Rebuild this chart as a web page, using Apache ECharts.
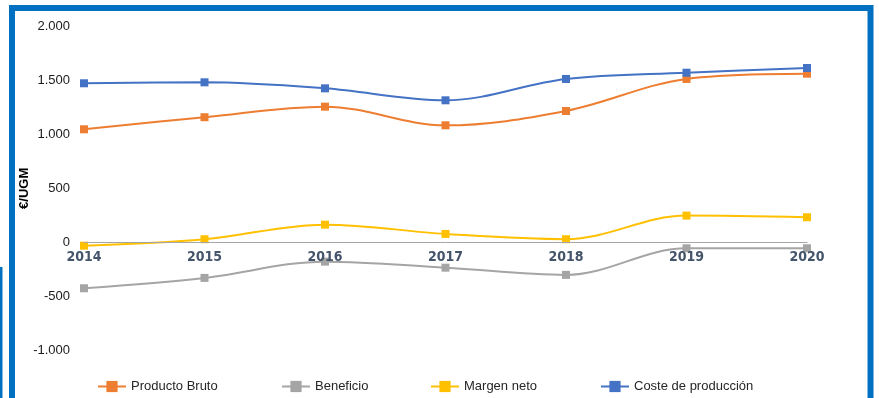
<!DOCTYPE html>
<html>
<head>
<meta charset="utf-8">
<script src="https://cdn.jsdelivr.net/npm/echarts@6/dist/echarts.min.js"></script>
<style>
  html, body { margin: 0; padding: 0; background: #fff; }
  #chart { width: 879px; height: 398px; }
</style>
</head>
<body>
<div id="chart"></div>
<script>
// Years on the horizontal axis
const years = ['2014', '2015', '2016', '2017', '2018', '2019', '2020'];

// Series values in €/UGM
const productoBruto = [1048, 1160, 1258, 1085, 1218, 1515, 1564];
const beneficio = [-427, -331, -180, -236, -303, -56, -56];
const margenNeto = [-32, 28, 163, 77, 28, 247, 232];
const costeProduccion = [1475, 1484, 1428, 1317, 1515, 1573, 1617];

const seriesNames = ['Producto Bruto', 'Beneficio', 'Margen neto', 'Coste de producción'];
const seriesColors = ['#ED7D31', '#A5A5A5', '#FFC000', '#4472C4'];
const seriesData = [productoBruto, beneficio, margenNeto, costeProduccion];

// Value axis range
const yMin = -1000;
const yMax = 2000;
const yStep = 500;

// Spanish number format: thousands separated with a dot
function fmt(v) {
  const s = Math.abs(v).toString().replace(/\B(?=(\d{3})+(?!\d))/g, '.');
  return (v < 0 ? '-' : '') + s;
}

const gridTop = 26.7;
const gridBottom = 48;
const chartHeight = 398;

// Distance (px) from the bottom of the plot to the zero line, so the
// category axis with its labels sits on y = 0
const plotHeight = chartHeight - gridTop - gridBottom;
const zeroOffset = plotHeight * (0 - yMin) / (yMax - yMin);

const chart = echarts.init(document.getElementById('chart'), null, { renderer: 'canvas' });

const legendLefts = [92, 276, 425, 595];

const option = {
  animation: false,
  backgroundColor: '#ffffff',
  grid: { left: 84, right: 72, top: gridTop, bottom: gridBottom },
  legend: seriesNames.map((name, i) => ({
    data: [name],
    left: legendLefts[i],
    top: 375,
    itemWidth: 28,
    itemHeight: 14,
    itemGap: 6,
    textStyle: { fontFamily: 'Liberation Sans', fontSize: 13, color: '#262626' }
  })),
  xAxis: {
    type: 'category',
    data: years,
    boundaryGap: false,
    offset: -zeroOffset,
    z: 10,
    axisLine: { onZero: false, lineStyle: { color: '#A6A6A6', width: 1 } },
    axisTick: { show: false },
    axisLabel: {
      margin: 8,
      fontFamily: '"Liberation Sans Narrow", "DejaVu Sans Condensed", sans-serif',
      fontWeight: 'bold',
      fontSize: 14,
      color: '#44546A'
    },
    splitLine: { show: false }
  },
  yAxis: {
    type: 'value',
    min: yMin,
    max: yMax,
    interval: yStep,
    name: '€/UGM',
    nameLocation: 'middle',
    nameGap: 53,
    nameMoveOverlap: false,
    nameRotate: 90,
    nameTextStyle: { fontFamily: 'Liberation Sans', fontWeight: 'bold', fontSize: 13, color: '#000' },
    axisLine: { show: false },
    axisTick: { show: false },
    splitLine: { show: false },
    axisLabel: {
      margin: 14,
      fontFamily: 'Liberation Sans',
      fontSize: 13,
      color: '#1a1a1a',
      formatter: fmt
    }
  },
  series: seriesNames.map((name, i) => ({
    name,
    type: 'line',
    data: seriesData[i],
    smooth: 0.35,
    symbol: 'rect',
    symbolSize: 8,
    showAllSymbol: true,
    lineStyle: { color: seriesColors[i], width: 2 },
    itemStyle: { color: seriesColors[i] },
    z: 2 + i
  })),
  graphic: [
    {
      type: 'rect',
      shape: { x: 12, y: 8, width: 858.5, height: 430 },
      style: { fill: 'none', stroke: '#0070C0', lineWidth: 6 },
      silent: true
    },
    {
      type: 'rect',
      shape: { x: 0, y: 267, width: 2.5, height: 140 },
      style: { fill: '#0070C0' },
      silent: true
    }
  ]
};

chart.setOption(option);
</script>
</body>
</html>
